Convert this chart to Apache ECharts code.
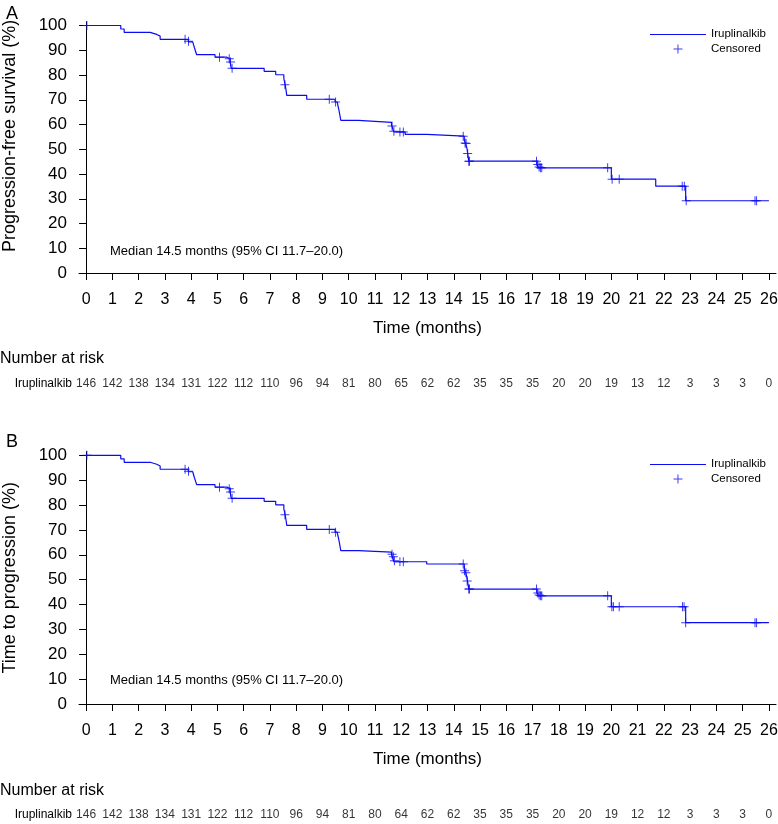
<!DOCTYPE html>
<html><head><meta charset="utf-8">
<script src="https://cdn.jsdelivr.net/npm/echarts@6/dist/echarts.min.js"></script>
<style>html,body{margin:0;padding:0;background:#fff}#c{width:778px;height:824px}</style>
</head><body><div id="c"></div>
<script>
const monthTicks = [0,1,2,3,4,5,6,7,8,9,10,11,12,13,14,15,16,17,18,19,20,21,22,23,24,25,26];
const yTicks = [0,10,20,30,40,50,60,70,80,90,100];
const groupName = 'Iruplinalkib';

const curveA = [[0,100],[1.32,98.6],[1.45,97.2],[2.44,96.4],[2.69,95.7],[2.82,94.4],[3.89,93.4],[4.06,92.6],[4.12,91.2],[4.18,89.2],[4.21,88.2],[4.91,87.2],[5.36,86.6],[5.48,85.5],[5.53,82.7],[6.78,81.5],[7.22,80.1],[7.53,78.5],[7.58,76.1],[7.62,73.5],[7.64,71.8],[8.4,70.2],[9.48,69.1],[9.56,68.4],[9.63,65.7],[9.7,61.7],[10.37,60.9],[11.63,59.9],[11.68,58.1],[11.72,57.0],[12.15,56.0],[12.97,55.3],[14.4,53.5],[14.45,52.3],[14.5,50.5],[14.53,48.3],[14.57,45.2],[17.17,44.0],[17.22,42.5],[20.0,37.9],[21.69,35.1],[22.83,29.2],[26.0,29.2]];
const censA = [[0.03,100],[3.77,94.4],[3.9,93.6],[5.08,87.2],[5.45,86.6],[5.5,85.3],[5.56,82.7],[7.57,76.1],[9.26,70.2],[9.5,69.1],[11.65,59.4],[11.72,57.3],[11.95,57.0],[12.08,57.0],[14.36,55.3],[14.43,52.5],[14.47,52.3],[14.53,48.3],[14.57,45.2],[14.6,45.2],[17.15,45.2],[17.2,43.8],[17.25,42.8],[17.3,42.5],[17.35,42.5],[19.86,42.5],[20.03,37.9],[20.3,37.9],[22.7,35.1],[22.78,35.1],[22.85,29.2],[25.47,29.2],[25.53,29.2]];

const curveB = [[0,100],[1.32,98.6],[1.45,97.2],[2.44,96.4],[2.69,95.7],[2.82,94.4],[3.89,93.4],[4.06,92.6],[4.12,91.2],[4.18,89.2],[4.21,88.2],[4.91,87.2],[5.36,86.6],[5.48,85.5],[5.53,82.7],[6.78,81.5],[7.22,80.1],[7.53,78.5],[7.58,76.1],[7.62,73.5],[7.64,71.8],[8.4,70.2],[9.48,69.1],[9.56,68.4],[9.63,65.7],[9.7,61.7],[10.37,61.1],[11.63,60.2],[11.68,58.5],[11.72,57.2],[12.97,56.3],[14.4,54.0],[14.45,53.0],[14.5,51.0],[14.53,49.0],[14.57,46.2],[17.17,44.8],[17.22,43.5],[20.0,39.1],[22.83,32.7],[26.0,32.7]];
const censB = [[0.03,100],[3.77,94.4],[3.9,93.6],[5.08,87.2],[5.45,86.6],[5.5,85.3],[5.56,82.7],[7.57,76.1],[9.26,70.2],[9.5,69.1],[11.65,60.2],[11.7,59.2],[11.74,57.6],[11.95,57.2],[12.08,57.2],[14.36,56.3],[14.41,53.6],[14.46,52.8],[14.51,49.5],[14.57,46.2],[14.6,46.2],[17.15,46.2],[17.2,44.6],[17.25,43.8],[17.3,43.5],[17.35,43.5],[19.86,43.5],[20.02,39.1],[20.08,39.1],[20.3,39.1],[22.71,39.1],[22.77,39.1],[22.83,32.7],[25.47,32.7],[25.53,32.7]];

const riskA = [146,142,138,134,131,122,112,110,96,94,81,80,65,62,62,35,35,35,20,20,19,13,12,3,3,3,0];
const riskB = [146,142,138,134,131,122,112,110,96,94,81,80,64,62,62,35,35,35,20,20,19,12,12,3,3,3,0];

const BLUE = '#0c0cf2';
const FONT = 'Liberation Sans, Arial, sans-serif';
const plusPath = 'path://M4.45,0H5.55V4.45H10V5.55H5.55V10H4.45V5.55H0V4.45H4.45Z';
const lineIcon = 'path://M0,0H0.01V0.01H0Z M0,4.4H56V5.6H0Z M0,9H0.01V9.01H0Z';

function mainX(grid){
  return {type:'value', gridIndex:grid, min:-0.27, max:26.27,
    axisLine:{show:true, lineStyle:{color:'#000', width:1}},
    axisTick:{show:true, customValues:monthTicks, length:7, lineStyle:{color:'#000'}},
    axisLabel:{customValues:monthTicks, fontSize:16, margin:19, color:'#000', fontFamily:FONT},
    splitLine:{show:false},
    name:'Time (months)', nameLocation:'middle', nameGap:47,
    nameTextStyle:{fontSize:17, color:'#000', fontFamily:FONT}};
}
function mainY(grid, title, shift){
  return {type:'value', gridIndex:grid, min:0, max:101.5,
    axisLine:{show:true, lineStyle:{color:'#000', width:1}},
    axisTick:{show:true, customValues:yTicks, length:7, lineStyle:{color:'#000'}},
    axisLabel:{customValues:yTicks, fontSize:17, margin:12, color:'#000', fontFamily:FONT},
    splitLine:{show:false},
    name:title, nameLocation:'middle', nameGap:60,
    nameTextStyle:{fontSize:18, color:'#000', fontFamily:FONT, padding:[0,0,0,shift]}};
}
function riskX(grid){
  return {type:'value', gridIndex:grid, min:-0.27, max:26.27, show:false};
}
function riskY(grid){
  return {type:'category', gridIndex:grid, data:[groupName],
    axisLine:{show:false}, axisTick:{show:false},
    axisLabel:{fontSize:12, margin:7, color:'#000', fontFamily:FONT}};
}
function riskSeries(idx, arr){
  return {type:'scatter', xAxisIndex:idx, yAxisIndex:idx, symbolSize:1,
    itemStyle:{color:'rgba(0,0,0,0)'}, silent:true,
    data: monthTicks.map((m,i)=>[m, groupName, arr[i]]),
    label:{show:true, position:'inside', formatter:p=>String(p.value[2]), fontSize:12, color:'#000', fontFamily:FONT}};
}
function curveSeries(idx, data){
  return {name:'Iruplinalkib', type:'line', step:'end', xAxisIndex:idx, yAxisIndex:idx,
    symbol:'none', data:data, lineStyle:{color:BLUE, width:1.2}, itemStyle:{color:BLUE}, z:3};
}
function censSeries(idx, data){
  return {name:'Censored', type:'scatter', xAxisIndex:idx, yAxisIndex:idx,
    symbol:plusPath, symbolSize:9, symbolKeepAspect:true, data:data, itemStyle:{color:BLUE}, z:4};
}
function legendAt(top){
  return {orient:'vertical', left:650, top:top, padding:0, itemWidth:56, itemHeight:9, itemGap:3,
    textStyle:{fontSize:11.5, color:'#000'}, selectedMode:false,
    data:[{name:'Iruplinalkib', icon:lineIcon}, {name:'Censored', icon:plusPath}]};
}
function gridAt(top, height){
  return {left:79, right:2, top:top, height:height, outerBoundsMode:'none', containLabel:false};
}
const chart = echarts.init(document.getElementById('c'), null, {renderer:'canvas'});
chart.setOption({
  animation:false,
  textStyle:{fontFamily:FONT},
  title:[
    {text:'A', left:1, top:0, textStyle:{fontSize:18, fontWeight:'normal', color:'#000'}},
    {text:'Median 14.5 months (95% CI 11.7\u201320.0)', left:105, top:240, textStyle:{fontSize:13, fontWeight:'normal', color:'#000'}},
    {text:'Number at risk', left:-5, top:346, textStyle:{fontSize:16, fontWeight:'normal', color:'#000'}},
    {text:'B', left:1, top:428, textStyle:{fontSize:18, fontWeight:'normal', color:'#000'}},
    {text:'Median 14.5 months (95% CI 11.7\u201320.0)', left:105, top:669, textStyle:{fontSize:13, fontWeight:'normal', color:'#000'}},
    {text:'Number at risk', left:-5, top:778, textStyle:{fontSize:16, fontWeight:'normal', color:'#000'}}
  ],
  legend:[legendAt(28), legendAt(458)],
  grid:[gridAt(21.8, 251.2), gridAt(451.6, 252.4), gridAt(374, 20), gridAt(805, 20)],
  xAxis:[mainX(0), mainX(1), riskX(2), riskX(3)],
  yAxis:[mainY(0,'Progression-free survival (%)', 23), mainY(1,'Time to progression (%)', 0), riskY(2), riskY(3)],
  series:[
    curveSeries(0, curveA), censSeries(0, censA),
    curveSeries(1, curveB), censSeries(1, censB),
    riskSeries(2, riskA), riskSeries(3, riskB)
  ]
});
</script></body></html>
